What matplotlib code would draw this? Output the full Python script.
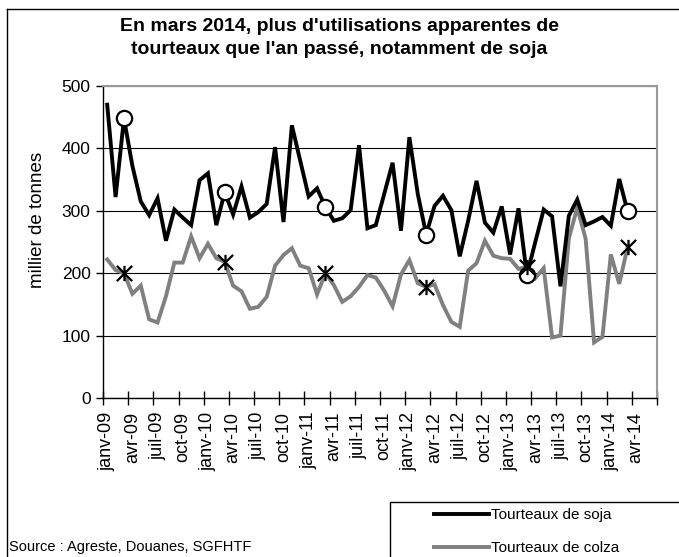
import numpy as np
import matplotlib.pyplot as plt
from matplotlib.lines import Line2D
from matplotlib.patches import Rectangle
from matplotlib.path import Path

plt.rcParams['font.family'] = ['Liberation Sans', 'DejaVu Sans']

# Données mensuelles, janv-09 à mars-14 (milliers de tonnes)
soja = [470, 322, 448, 372, 315, 293, 320, 252, 302, 289, 277, 349,
        360, 277, 330, 294, 339, 289, 298, 311, 402, 282, 437, 380,
        323, 336, 306, 284, 288, 301, 405, 272, 277, 327, 377, 268,
        418, 327, 262, 308, 324, 301, 227, 284, 348, 281, 265, 307,
        230, 304, 197, 250, 302, 291, 179, 292, 318, 277, 283, 290,
        276, 351, 299]
colza = [222, 205, 200, 167, 180, 126, 121, 163, 217, 217, 259, 224,
         247, 224, 218, 180, 171, 143, 146, 162, 212, 229, 240, 212,
         208, 166, 200, 181, 154, 163, 178, 197, 193, 172, 147, 198,
         221, 184, 178, 182, 149, 122, 114, 204, 216, 252, 228, 224,
         223, 207, 210, 192, 208, 97, 100, 256, 305, 255, 89, 98,
         230, 183, 242]
tick_labels = ['janv-09', 'avr-09', 'juil-09', 'oct-09',
               'janv-10', 'avr-10', 'juil-10', 'oct-10',
               'janv-11', 'avr-11', 'juil-11', 'oct-11',
               'janv-12', 'avr-12', 'juil-12', 'oct-12',
               'janv-13', 'avr-13', 'juil-13', 'oct-13',
               'janv-14', 'avr-14']
mars = [2, 14, 26, 38, 50, 62]  # indices des mois de mars

x = np.arange(len(soja)) + 0.5
soja = np.array(soja)
colza = np.array(colza)

fig = plt.figure(figsize=(6.79, 5.57), dpi=100)
ax = fig.add_axes([0.1517, 0.2855, 0.8159, 0.5601])

l1, = ax.plot(x, soja, color='black', lw=2.8, solid_joinstyle='miter', zorder=3)
l2, = ax.plot(x, colza, color='#808080', lw=2.8, solid_joinstyle='miter', zorder=2)

# marqueurs des mois de mars
star = Path([(0, -1), (0, 1), (-1, -1), (1, 1), (-1, 1), (1, -1)],
            [Path.MOVETO, Path.LINETO, Path.MOVETO, Path.LINETO, Path.MOVETO, Path.LINETO])
ax.plot(x[mars], soja[mars], 'o', ms=11, mfc='white', mec='black', mew=1.6, zorder=5)
ax.plot(x[mars], colza[mars], ls='none', marker=star, ms=11, mec='black', mew=1.6, zorder=5)

ax.set_ylim(0, 500)
ax.set_xlim(0, 66)
ax.set_yticks(range(0, 501, 100))
ax.yaxis.grid(True, color='black', lw=0.8)
ax.set_axisbelow(True)

ax.set_xticks(np.arange(0, 67, 3))
ax.set_xticklabels([])
ax.set_xticks(np.arange(len(tick_labels)) * 3 + 0.5, minor=True)
ax.set_xticklabels(tick_labels, minor=True, rotation=90, fontsize=13)
ax.tick_params(axis='x', which='major', direction='inout', length=10, width=1)
ax.tick_params(axis='x', which='minor', length=0, pad=10)
ax.tick_params(axis='y', direction='out', length=5, width=1, labelsize=12.5, pad=4)

ax.set_ylabel('millier de tonnes', fontsize=13.5)
ax.yaxis.set_label_coords(-0.103, 0.57)
for s in ['top', 'right']:
    ax.spines[s].set_color('#999999')
    ax.spines[s].set_linewidth(1.5)
for s in ['left', 'bottom']:
    ax.spines[s].set_color('black')
    ax.spines[s].set_linewidth(1)

fig.text(0.5, 0.968, "En mars 2014, plus d'utilisations apparentes de\ntourteaux que l'an passé, notamment de soja",
         ha='center', va='top', fontsize=14, fontweight='bold', linespacing=1.5)

fig.text(0.013, 0.011, 'Source : Agreste, Douanes, SGFHTF', fontsize=10.5, va='baseline')

# légende
fig.add_artist(Rectangle((390 / 679, -0.01), 0.6, 1 - 502 / 557 + 0.01, transform=fig.transFigure,
                         fill=False, edgecolor='black', lw=1))
leg = fig.legend([l1, l2], ['Tourteaux de soja', 'Tourteaux de colza'],
                 loc='upper left', bbox_to_anchor=(434 / 679, 1 - 508 / 557), fontsize=11,
                 frameon=False, handlelength=3.6, handletextpad=0.1, borderpad=0,
                 labelspacing=1.25, borderaxespad=0)

# cadre extérieur
fig.add_artist(Line2D([0.0105, 0.0105], [0, 0.984], color='black', lw=1, transform=fig.transFigure))
fig.add_artist(Line2D([0.0105, 1], [0.984, 0.984], color='black', lw=1, transform=fig.transFigure))

fig.savefig('out.png', dpi=100)
